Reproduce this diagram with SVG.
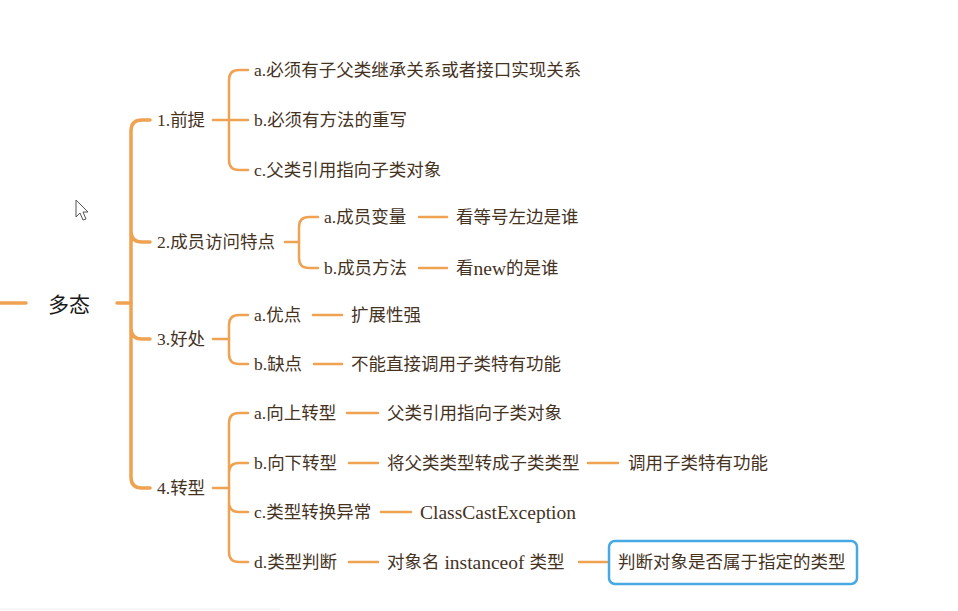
<svg xmlns="http://www.w3.org/2000/svg" width="958" height="611" viewBox="0 0 958 611">
<style>
.c{fill:none;stroke:#EFA252;stroke-width:2.5;stroke-linecap:round}
.c1{fill:none;stroke:#EFA252;stroke-width:3.5;stroke-linecap:round}
text{font-family:"Liberation Serif","Noto Sans CJK SC",serif;font-size:17.5px;fill:#45331f;dominant-baseline:central}
.l{font-size:19.5px}
.root{font-size:21px;fill:#1a1a1a;font-family:"Noto Sans CJK SC",sans-serif}
</style>
<rect width="958" height="611" fill="#ffffff"/>
<line x1="0" y1="609" x2="280" y2="609" stroke="#eeeeee" stroke-width="1"/>
<g id="connectors">
<line class="c1" x1="0" y1="303" x2="26" y2="303"/>
<line class="c1" x1="117" y1="303" x2="131" y2="303"/>
<path class="c1" d="M150,120 H142 Q131,120 131,131 V477 Q131,488 142,488 H150 M131,231 Q131,242 142,242 H150 M131,328 Q131,339 142,339 H150"/>
<line class="c" x1="213" y1="120" x2="248" y2="120"/>
<path class="c" d="M248,70 H239 Q229,70 229,80 V160 Q229,170 239,170 H248"/>
<line class="c" x1="285" y1="242" x2="299" y2="242"/>
<path class="c" d="M318,217 H309 Q299,217 299,227 V258 Q299,268 309,268 H318"/>
<line class="c" x1="419" y1="217" x2="447" y2="217"/>
<line class="c" x1="419" y1="268" x2="447" y2="268"/>
<line class="c" x1="213" y1="339" x2="229" y2="339"/>
<path class="c" d="M248,315 H239 Q229,315 229,325 V354 Q229,364 239,364 H248"/>
<line class="c" x1="313" y1="315" x2="342" y2="315"/>
<line class="c" x1="314" y1="364" x2="342" y2="364"/>
<line class="c" x1="213" y1="488" x2="229" y2="488"/>
<path class="c" d="M248,413 H239 Q229,413 229,423 V552 Q229,562 239,562 H248 M229,473 Q229,463 239,463 H248 M229,502 Q229,512 239,512 H248"/>
<line class="c" x1="347" y1="413" x2="378" y2="413"/>
<line class="c" x1="349" y1="463" x2="378" y2="463"/>
<line class="c" x1="588" y1="463" x2="618" y2="463"/>
<line class="c" x1="381" y1="512" x2="411" y2="512"/>
<line class="c" x1="349" y1="562" x2="378" y2="562"/>
<line class="c" x1="579" y1="562" x2="607" y2="562"/>
</g>
<g id="root"><text class="root" x="48" y="303">多态</text></g>
<g id="n1"><text x="157" y="120">1.前提</text></g>
<g id="n1a"><text x="254" y="70">a.必须有子父类继承关系或者接口实现关系</text></g>
<g id="n1b"><text x="254" y="120">b.必须有方法的重写</text></g>
<g id="n1c"><text x="254" y="170">c.父类引用指向子类对象</text></g>
<g id="n2"><text x="157" y="242">2.成员访问特点</text></g>
<g id="n2a"><text x="324" y="217">a.成员变量</text></g>
<g id="n2a1"><text x="456" y="217">看等号左边是谁</text></g>
<g id="n2b"><text x="324" y="268">b.成员方法</text></g>
<g id="n2b1"><text x="456" y="268">看<tspan class="l">new</tspan>的是谁</text></g>
<g id="n3"><text x="157" y="339">3.好处</text></g>
<g id="n3a"><text x="254" y="315">a.优点</text></g>
<g id="n3a1"><text x="351" y="315">扩展性强</text></g>
<g id="n3b"><text x="254" y="364">b.缺点</text></g>
<g id="n3b1"><text x="351" y="364">不能直接调用子类特有功能</text></g>
<g id="n4"><text x="157" y="488">4.转型</text></g>
<g id="n4a"><text x="254" y="413">a.向上转型</text></g>
<g id="n4a1"><text x="387" y="413">父类引用指向子类对象</text></g>
<g id="n4b"><text x="254" y="463">b.向下转型</text></g>
<g id="n4b1"><text x="387" y="463">将父类类型转成子类类型</text></g>
<g id="n4b2"><text x="628" y="463">调用子类特有功能</text></g>
<g id="n4c"><text x="254" y="512">c.类型转换异常</text></g>
<g id="n4c1"><text x="420" y="512" class="l">ClassCastException</text></g>
<g id="n4d"><text x="254" y="562">d.类型判断</text></g>
<g id="n4d1"><text x="387" y="562">对象名<tspan class="l"> instanceof </tspan>类型</text></g>
<g id="n4d2">
<rect x="609" y="541" width="248" height="43" rx="6" fill="#ffffff" stroke="#47A9E3" stroke-width="2.5"/>
<text x="618" y="562">判断对象是否属于指定的类型</text>
</g>
<path d="M76,200 V217 L80,213 L83,220 L86,219 L83,212 L88,212 Z" fill="#ffffff" stroke="#555555" stroke-width="1" stroke-linejoin="round"/>
</svg>
